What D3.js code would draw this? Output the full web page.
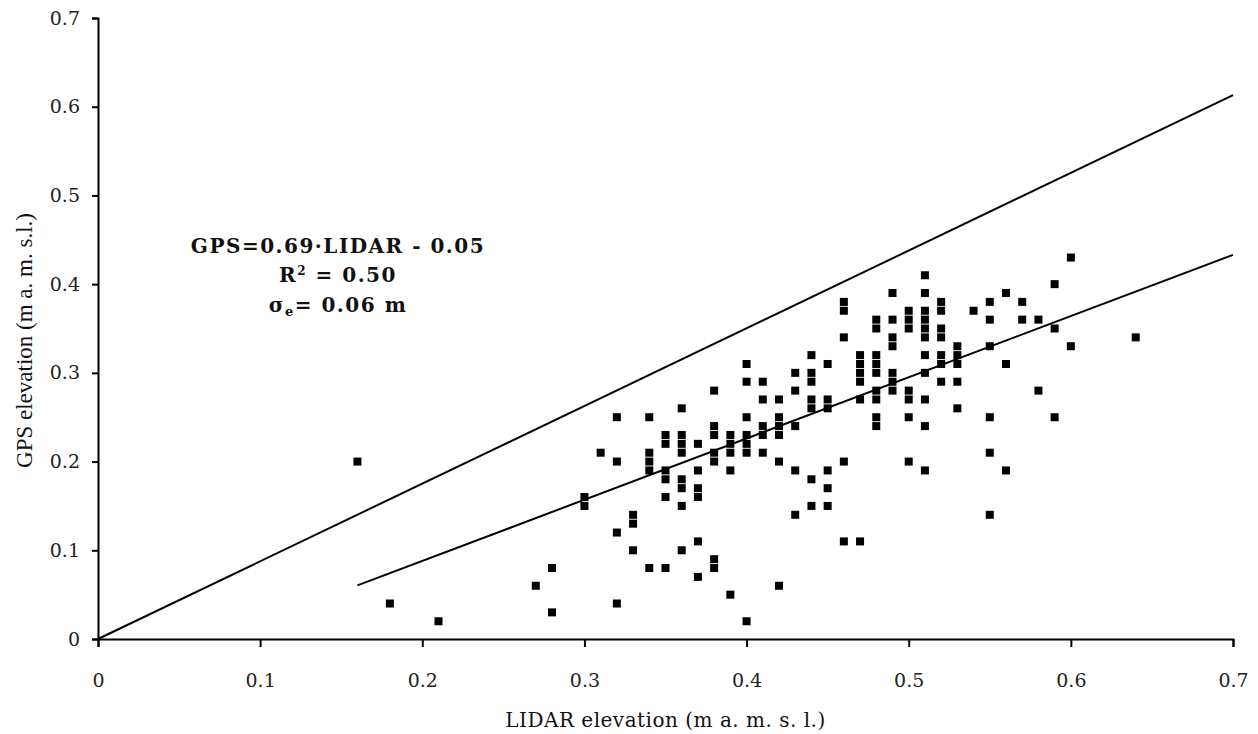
<!DOCTYPE html>
<html>
<head>
<meta charset="utf-8">
<script src="https://d3js.org/d3.v7.min.js"></script>
<style>
  body { margin: 0; background: #fff; }
</style>
</head>
<body>
<svg id="chart" width="1258" height="734"></svg>
<script>
// LIDAR value of each column of points, and the GPS values measured at it
var lidarCols = [0.16, 0.18, 0.21, 0.27, 0.28, 0.30, 0.31, 0.32, 0.33, 0.34, 0.35, 0.36, 0.37, 0.38,
                 0.39, 0.40, 0.41, 0.42, 0.43, 0.44, 0.45, 0.46, 0.47, 0.48, 0.49, 0.50, 0.51, 0.52,
                 0.53, 0.54, 0.55, 0.56, 0.57, 0.58, 0.59, 0.60, 0.64];
var gpsCols = [
  [0.20],
  [0.04],
  [0.02],
  [0.06],
  [0.08, 0.03],
  [0.16, 0.15],
  [0.21],
  [0.25, 0.20, 0.12, 0.04],
  [0.14, 0.13, 0.10],
  [0.25, 0.21, 0.20, 0.19, 0.08],
  [0.23, 0.22, 0.19, 0.18, 0.16, 0.08],
  [0.26, 0.23, 0.22, 0.21, 0.18, 0.17, 0.15, 0.10],
  [0.22, 0.19, 0.17, 0.16, 0.11, 0.07],
  [0.28, 0.24, 0.23, 0.21, 0.20, 0.09, 0.08],
  [0.23, 0.22, 0.21, 0.19, 0.05],
  [0.31, 0.29, 0.25, 0.23, 0.22, 0.21, 0.02],
  [0.29, 0.27, 0.24, 0.23, 0.21],
  [0.27, 0.25, 0.24, 0.23, 0.20, 0.06],
  [0.30, 0.28, 0.24, 0.19, 0.14],
  [0.32, 0.30, 0.29, 0.27, 0.26, 0.18, 0.15],
  [0.31, 0.27, 0.26, 0.19, 0.17, 0.15],
  [0.38, 0.37, 0.34, 0.20, 0.11],
  [0.32, 0.31, 0.30, 0.29, 0.27, 0.11],
  [0.36, 0.35, 0.32, 0.31, 0.30, 0.28, 0.27, 0.25, 0.24],
  [0.39, 0.36, 0.34, 0.33, 0.30, 0.29, 0.28],
  [0.37, 0.36, 0.35, 0.28, 0.27, 0.25, 0.20],
  [0.41, 0.39, 0.37, 0.36, 0.35, 0.34, 0.32, 0.30, 0.27, 0.24, 0.19],
  [0.38, 0.37, 0.35, 0.34, 0.32, 0.31, 0.29],
  [0.33, 0.32, 0.31, 0.29, 0.26],
  [0.37],
  [0.38, 0.36, 0.33, 0.25, 0.21, 0.14],
  [0.39, 0.31, 0.19],
  [0.38, 0.36],
  [0.36, 0.28],
  [0.40, 0.35, 0.25],
  [0.43, 0.33],
  [0.34]
];
var tickValues = [0, 0.1, 0.2, 0.3, 0.4, 0.5, 0.6, 0.7];
var fitSlope = 0.69, fitIntercept = -0.05, fitRange = [0.16, 0.70];
var refLine = [[0, 0], [0.7, 0.613]];

var svg = d3.select("#chart");
var margin = {left: 98, top: 18},
    width = 1135, height = 621;

var g = svg.append("g").attr("transform", "translate(" + margin.left + "," + margin.top + ")");

var x = d3.scaleLinear().domain([0, 0.7]).range([0, width]);
var y = d3.scaleLinear().domain([0, 0.7]).range([height, 0]);

var fmt = function(d) { return d === 0 ? "0" : d3.format(".1f")(d); };
var tickFont = "'DejaVu Serif', serif";

// axes
var xAxis = g.append("g").attr("transform", "translate(0," + height + ")")
  .call(d3.axisBottom(x).tickValues(tickValues).tickFormat(fmt).tickSizeOuter(0).tickSize(8));
var yAxis = g.append("g")
  .call(d3.axisLeft(y).tickValues(tickValues).tickFormat(fmt).tickSizeOuter(0).tickSize(6));
[xAxis, yAxis].forEach(function(a) {
  a.selectAll("line, path").attr("stroke", "#000").attr("stroke-width", 2);
  a.selectAll(".tick text")
    .style("font-family", tickFont).style("font-size", "19px").attr("fill", "#222");
});
xAxis.selectAll(".tick text").attr("y", 48).attr("dy", 0);
yAxis.selectAll(".tick text").attr("x", -18);

// reference line and regression line
var line = d3.line().x(function(d) { return x(d[0]); }).y(function(d) { return y(d[1]); });
g.append("path").datum(refLine).attr("d", line)
  .attr("fill", "none").attr("stroke", "#000").attr("stroke-width", 2);
var fit = fitRange.map(function(v) { return [v, fitSlope * v + fitIntercept]; });
g.append("path").datum(fit).attr("d", line)
  .attr("fill", "none").attr("stroke", "#000").attr("stroke-width", 2);

// points
var points = [];
lidarCols.forEach(function(lx, i) {
  gpsCols[i].forEach(function(gy) { points.push({lidar: lx, gps: gy}); });
});
var s = 8;
g.selectAll(".pt").data(points).enter().append("rect")
  .attr("class", "pt")
  .attr("x", function(d) { return x(d.lidar) - s / 2; })
  .attr("y", function(d) { return y(d.gps) - s / 2; })
  .attr("width", s).attr("height", s)
  .attr("fill", "#000");

// axis titles
svg.append("text")
  .attr("x", margin.left + width / 2).attr("y", 727)
  .attr("text-anchor", "middle")
  .style("font-family", "'DejaVu Serif', serif").style("font-size", "20px")
  .style("letter-spacing", "0.5px").attr("fill", "#111")
  .text("LIDAR elevation (m a. m. s. l.)");
svg.append("text")
  .attr("transform", "translate(32," + (margin.top + height / 2 + 12) + ") rotate(-90)")
  .attr("text-anchor", "middle")
  .style("font-family", "'Liberation Serif', serif").style("font-size", "23px").attr("fill", "#111")
  .text("GPS elevation (m a. m. s.l.)");

// equation text
var ex = 338;
function eqText(yy) {
  return svg.append("text").attr("x", ex).attr("y", yy).attr("text-anchor", "middle")
    .style("font-family", "'DejaVu Serif', serif").style("font-weight", "bold")
    .style("font-size", "20px").style("letter-spacing", "1.5px").attr("fill", "#111");
}
eqText(253).text("GPS=0.69\u00b7LIDAR - 0.05");
var t2 = eqText(282);
t2.append("tspan").text("R");
t2.append("tspan").attr("dy", -7).style("font-size", "12px").text("2");
t2.append("tspan").attr("dy", 7).text(" = 0.50");
var t3 = eqText(312);
t3.append("tspan").text("\u03c3");
t3.append("tspan").attr("dy", 4).style("font-size", "13px").text("e");
t3.append("tspan").attr("dy", -4).text("= 0.06 m");
</script>
</body>
</html>
